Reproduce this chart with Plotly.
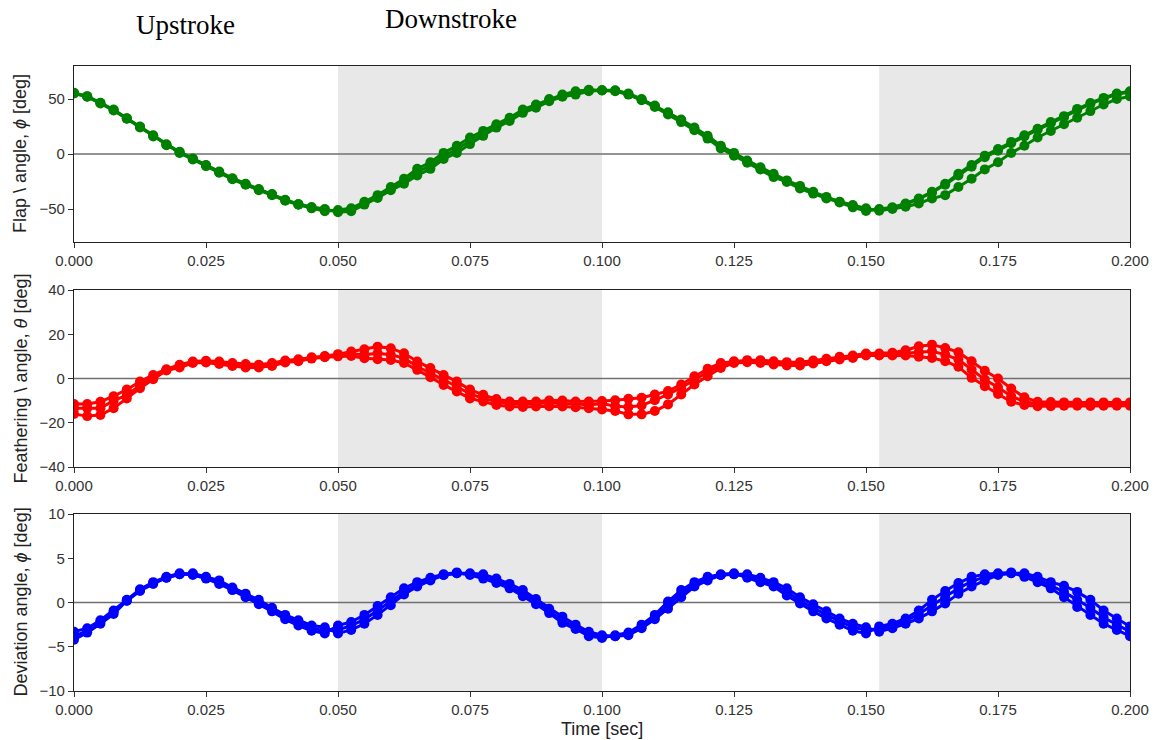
import plotly.graph_objects as go

# ---------------- data ----------------
time_s = [0.0, 0.0025, 0.005, 0.0075, 0.01, 0.0125, 0.015, 0.0175, 0.02, 0.0225,
          0.025, 0.0275, 0.03, 0.0325, 0.035, 0.0375, 0.04, 0.0425, 0.045, 0.0475,
          0.05, 0.0525, 0.055, 0.0575, 0.06, 0.0625, 0.065, 0.0675, 0.07, 0.0725,
          0.075, 0.0775, 0.08, 0.0825, 0.085, 0.0875, 0.09, 0.0925, 0.095, 0.0975,
          0.1, 0.1025, 0.105, 0.1075, 0.11, 0.1125, 0.115, 0.1175, 0.12, 0.1225,
          0.125, 0.1275, 0.13, 0.1325, 0.135, 0.1375, 0.14, 0.1425, 0.145, 0.1475,
          0.15, 0.1525, 0.155, 0.1575, 0.16, 0.1625, 0.165, 0.1675, 0.17, 0.1725,
          0.175, 0.1775, 0.18, 0.1825, 0.185, 0.1875, 0.19, 0.1925, 0.195, 0.1975,
          0.2]

flap_a = [55.0, 52.0, 46.0, 39.6, 32.0, 24.2, 16.0, 8.0, 1.0, -5.0,
          -11.0, -17.0, -23.0, -28.0, -33.0, -37.4, -42.4, -46.2, -49.4, -52.0,
          -51.0, -49.4, -43.4, -37.4, -30.0, -22.5, -13.5, -7.5, 1.0, 7.5,
          15.0, 21.0, 27.0, 33.0, 40.4, 45.0, 50.0, 54.0, 57.0, 58.4,
          57.8, 57.0, 54.0, 48.8, 42.8, 36.0, 29.0, 21.6, 14.0, 5.0,
          -1.5, -8.0, -14.0, -21.0, -25.4, -31.4, -36.0, -40.4, -44.0, -48.5,
          -51.8, -50.0, -48.5, -45.0, -40.4, -34.4, -27.0, -18.0, -10.0, -1.5,
          4.5, 11.0, 17.0, 23.0, 29.0, 34.4, 41.0, 46.4, 51.0, 55.0,
          57.0]
flap_b = [55.6, 52.6, 46.6, 40.4, 32.6, 25.0, 17.0, 8.8, 2.0, -4.0,
          -10.0, -16.0, -22.0, -27.0, -31.8, -36.4, -41.6, -45.4, -48.2, -50.0,
          -53.0, -52.0, -46.0, -40.0, -33.0, -27.0, -19.5, -13.5, -4.5, 1.0,
          9.0, 16.5, 24.0, 30.0, 37.4, 42.0, 48.0, 52.0, 54.0, 57.0,
          58.0, 58.0, 55.0, 50.0, 44.0, 38.0, 31.4, 24.0, 16.5, 7.5,
          1.0, -6.0, -12.0, -18.0, -24.0, -29.0, -34.4, -39.0, -43.4, -46.4,
          -49.4, -51.5, -50.0, -48.0, -45.0, -40.4, -37.4, -30.0, -22.5, -14.0,
          -7.5, 1.0, 7.5, 15.0, 21.0, 27.0, 33.0, 39.0, 45.0, 50.0,
          52.4]
flap_c = [55.3, 52.3, 46.3, 40.0, 32.3, 24.6, 16.5, 8.4, 1.5, -4.5,
          -10.5, -16.5, -22.5, -27.5, -32.4, -36.9, -42.0, -45.8, -48.8, -50.8,
          -52.0, -50.5, -44.6, -38.6, -31.5, -24.8, -16.5, -10.5, -1.8, 4.3,
          12.0, 18.8, 25.5, 31.5, 38.9, 43.5, 49.0, 53.0, 55.5, 57.7,
          57.9, 57.5, 54.5, 49.4, 43.4, 37.0, 30.2, 22.8, 15.2, 6.2,
          -0.2, -7.0, -13.0, -19.5, -24.7, -30.2, -35.2, -39.7, -43.7, -47.4,
          -50.6, -50.5, -49.0, -45.5, -41.0, -35.0, -28.0, -19.5, -11.5, -3.0,
          3.0, 9.8, 16.0, 22.0, 28.0, 33.5, 40.0, 45.5, 50.2, 54.3,
          56.5]

feather_a = [-11.5, -11.5, -10.5, -8.0, -5.0, -1.4, 1.6, 4.2, 6.2, 7.7,
             8.0, 7.7, 7.0, 6.5, 6.2, 7.0, 8.1, 8.7, 9.6, 10.2,
             11.0, 12.2, 13.2, 14.4, 13.7, 11.4, 7.7, 4.7, 1.6, -1.4,
             -5.0, -7.4, -9.3, -10.4, -10.4, -10.4, -10.0, -10.0, -10.4, -10.4,
             -10.2, -9.8, -9.2, -8.7, -7.2, -5.7, -2.7, 1.0, 4.4, 7.0,
             7.8, 8.3, 8.3, 7.8, 7.4, 7.4, 8.1, 8.9, 9.8, 10.4,
             11.3, 11.3, 11.6, 12.8, 14.6, 15.3, 13.8, 11.9, 7.8, 3.5,
             0.0, -4.5, -8.5, -10.5, -10.6, -10.8, -10.8, -10.8, -10.8, -10.8,
             -10.8]
feather_b = [-13.5, -13.4, -13.4, -10.0, -7.5, -3.0, 0.6, 3.8, 5.6, 7.3,
             7.6, 7.1, 6.3, 5.7, 5.6, 6.3, 7.6, 8.2, 9.3, 9.9,
             10.5, 11.2, 10.7, 11.4, 10.7, 9.2, 5.4, 2.4, -0.6, -3.6,
             -7.0, -9.0, -10.4, -11.4, -11.4, -11.4, -11.0, -11.4, -11.4, -12.0,
             -11.3, -12.5, -12.9, -12.2, -9.8, -7.2, -4.2, -0.5, 2.9, 5.8,
             7.4, 7.8, 7.6, 7.0, 6.6, 6.6, 7.4, 8.3, 9.2, 9.8,
             10.8, 10.8, 11.0, 11.4, 11.9, 12.3, 10.8, 8.6, 4.1, -0.5,
             -4.0, -8.0, -10.5, -11.5, -11.6, -11.6, -11.6, -11.6, -11.6, -11.6,
             -11.6]
feather_c = [-16.0, -17.0, -16.5, -13.4, -9.0, -4.4, -0.3, 3.6, 5.0, 7.0,
             7.2, 6.6, 5.7, 5.0, 5.0, 5.7, 7.2, 7.8, 9.0, 9.6,
             10.0, 10.2, 9.2, 8.7, 8.4, 7.0, 3.9, 0.6, -2.9, -5.9,
             -9.0, -10.4, -12.0, -12.6, -12.9, -12.6, -12.5, -12.6, -13.0, -13.4,
             -14.0, -14.7, -16.2, -16.2, -14.7, -11.7, -7.2, -2.7, 1.0, 4.8,
             7.0, 7.4, 7.0, 6.3, 5.9, 5.9, 6.8, 7.8, 8.6, 9.3,
             10.4, 10.4, 10.4, 10.4, 9.8, 9.3, 7.8, 5.3, 0.3, -3.5,
             -7.0, -10.5, -12.0, -12.5, -12.5, -12.3, -12.3, -12.4, -12.3, -12.3,
             -12.3]

dev_a = [-3.3, -2.9, -2.0, -0.9, 0.3, 1.5, 2.3, 2.9, 3.3,
         3.1, 2.7, 2.1, 1.4, 0.6, -0.2, -1.0, -1.9, -2.6, -3.2, -3.5,
         -2.6, -2.2, -1.4, -0.4, 0.6, 1.6, 2.3, 2.8, 3.2, 3.4,
         3.1, 2.7, 2.2, 1.6, 0.7, -0.2, -1.2, -2.3, -3.0, -3.8, -4.0,
         -3.7, -3.4, -2.5, -1.4, 0.1, 1.4, 2.3, 2.9, 3.2, 3.3,
         2.8, 2.3, 1.8, 0.8, -0.1, -1.0, -1.8, -2.5, -3.2, -3.5,
         -2.7, -2.4, -1.8, -0.9, 0.3, 1.3, 2.2, 2.9, 3.2, 3.3, 3.4,
         2.9, 2.3, 1.6, 0.6, -0.5, -1.4, -2.4, -3.1, -3.8]
dev_b = [-4.2, -3.4, -2.4, -1.3, 0.2, 1.3, 2.1, 2.8, 3.2,
         3.3, 2.9, 2.5, 1.7, 1.0, 0.3, -0.6, -1.4, -2.0, -2.6, -2.8,
         -3.5, -3.1, -2.4, -1.4, -0.3, 0.9, 1.8, 2.5, 3.1, 3.3,
         3.3, 3.2, 2.7, 2.1, 1.4, 0.4, -0.7, -1.6, -2.5, -3.3, -3.7,
         -3.8, -3.7, -2.9, -1.9, -0.7, 0.6, 1.8, 2.5, 3.1, 3.2,
         3.2, 2.8, 2.3, 1.6, 0.6, -0.2, -1.0, -1.8, -2.4, -2.8,
         -3.3, -2.9, -2.4, -1.8, -1.0, -0.1, 1.0, 1.8, 2.5, 3.1, 3.3,
         3.3, 2.9, 2.3, 1.9, 1.2, 0.3, -0.9, -1.8, -2.7]
dev_c = [-3.8, -3.2, -2.2, -1.1, 0.2, 1.4, 2.2, 2.8, 3.2,
         3.2, 2.8, 2.3, 1.5, 0.8, 0.0, -0.8, -1.6, -2.3, -2.9, -3.2,
         -3.1, -2.6, -1.9, -0.9, 0.2, 1.2, 2.0, 2.6, 3.1, 3.3,
         3.2, 2.9, 2.4, 1.8, 1.0, 0.1, -1.0, -2.0, -2.8, -3.5, -3.9,
         -3.8, -3.5, -2.7, -1.6, -0.3, 1.0, 2.0, 2.7, 3.1, 3.2,
         3.0, 2.6, 2.0, 1.2, 0.2, -0.6, -1.4, -2.1, -2.8, -3.1,
         -3.0, -2.6, -2.1, -1.3, -0.3, 0.6, 1.6, 2.4, 2.9, 3.2, 3.3,
         3.1, 2.6, 1.9, 1.2, 0.3, -0.6, -1.7, -2.5, -3.3]

downstroke_spans = [(0.05, 0.1), (0.1525, 0.2)]

panel_titles = ["Flap \\ angle, <i>ϕ</i> [deg]",
                "Feathering \\ angle, <i>θ</i> [deg]",
                "Deviation angle, <i>ϕ</i> [deg]"]
panel_ranges = [(-80, 80), (-40, 40), (-10, 10)]
panel_dticks = [50, 20, 5]
panel_colors = ["#008000", "#ff0000", "#0000ff"]
panel_series = [[flap_a, flap_b, flap_c],
                [feather_a, feather_b, feather_c],
                [dev_a, dev_b, dev_c]]

# ---------------- layout geometry (screen pixels; body margin removed) ----------------
W, H = 1160, 740
ML, MT = 74, 66
MR = W - 1130
MB = H - 691
PH = H - MT - MB
panel_px = [(66, 242), (290, 467), (514, 691)]


def py(y_screen):
    return (H - MB - y_screen) / PH


def px(x_screen):
    return (x_screen - ML) / (W - ML - MR)


fig = go.Figure()
sans = "Liberation Sans, Arial, sans-serif"
tick_font = dict(family=sans, size=15, color="#333333")
title_font = dict(family=sans, size=18, color="#222222")

for i in range(3):
    n = "" if i == 0 else str(i + 1)
    xa, ya = "x" + n, "y" + n
    for s in panel_series[i]:
        fig.add_trace(go.Scatter(
            x=time_s, y=s, xaxis=xa, yaxis=ya, mode="lines+markers",
            line=dict(color=panel_colors[i], width=3),
            marker=dict(color=panel_colors[i], size=10),
            showlegend=False, hoverinfo="skip"))
    top, bot = panel_px[i]
    dom = [py(bot), py(top)]
    fig.layout["xaxis" + n] = dict(
        domain=[0, 1], anchor=ya, range=[0, 0.2], dtick=0.025, tick0=0,
        tickformat=".3f", ticks="outside", ticklen=5, tickcolor="#333333",
        showline=True, linecolor="#222222", linewidth=1.2, mirror=True,
        showgrid=False, zeroline=False, tickfont=tick_font)
    fig.layout["yaxis" + n] = dict(
        domain=dom, anchor=xa, range=list(panel_ranges[i]), dtick=panel_dticks[i],
        ticks="outside", ticklen=5, tickcolor="#333333",
        showline=True, linecolor="#222222", linewidth=1.2, mirror=True,
        showgrid=False, zeroline=False, tickfont=tick_font)
    for (x0, x1) in downstroke_spans:
        fig.add_shape(type="rect", xref=xa, yref=ya + " domain", x0=x0, x1=x1,
                      y0=0, y1=1, fillcolor="#e8e8e8", line=dict(width=0),
                      layer="below")
    fig.add_shape(type="line", xref=xa + " domain", yref=ya, x0=0, x1=1, y0=0, y1=0,
                  line=dict(color="#707070", width=1.3), layer="below")
    fig.add_annotation(text=panel_titles[i], xref="paper", yref="paper",
                       x=px(20), y=(dom[0] + dom[1]) / 2, textangle=-90,
                       showarrow=False, xanchor="center", yanchor="middle",
                       font=title_font)

fig.add_annotation(text="Time [sec]", xref="paper", yref="paper", x=px(602), y=py(729),
                   showarrow=False, xanchor="center", yanchor="middle",
                   font=title_font)
serif = dict(family="Liberation Serif, Times New Roman, serif", size=27, color="#000000")
fig.add_annotation(text="Upstroke", xref="paper", yref="paper",
                   x=px(185), y=py(25), showarrow=False,
                   xanchor="center", yanchor="middle", font=serif)
fig.add_annotation(text="Downstroke", xref="paper", yref="paper",
                   x=px(451), y=py(19), showarrow=False,
                   xanchor="center", yanchor="middle", font=serif)

fig.update_layout(width=W, height=H,
                  margin=dict(l=ML, r=MR, t=MT, b=MB, autoexpand=False),
                  paper_bgcolor="white", plot_bgcolor="white")

fig.write_html("out.html", config={"displayModeBar": False},
               post_script="document.body.style.margin='0px';")
